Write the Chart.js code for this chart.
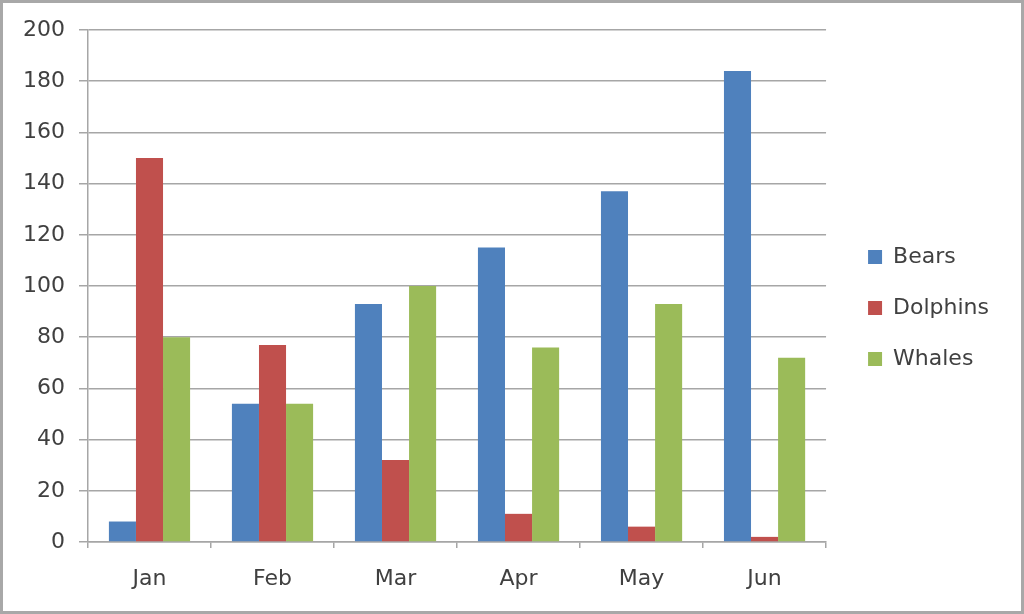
<!DOCTYPE html>
<html>
<head>
<meta charset="utf-8">
<script src="https://cdn.jsdelivr.net/npm/chart.js@4/dist/chart.umd.min.js"></script>
<style>
  html, body { margin: 0; padding: 0; background: #fff; }
  #wrap { width: 1024px; height: 614px; position: relative; }
</style>
</head>
<body>
<div id="wrap"><canvas id="chart" width="1024" height="614"></canvas></div>
<script>
// values
const months = ['Jan', 'Feb', 'Mar', 'Apr', 'May', 'Jun'];
const bears = [8, 54, 93, 115, 137, 184];
const dolphins = [150, 77, 32, 11, 6, 2];
const whales = [80, 54, 100, 76, 93, 72];

const gridColor = '#a6a6a6';
const textColor = '#404040';
const font = { family: 'DejaVu Sans', size: 22 };

// grey frame round the whole picture
const framePlugin = {
  id: 'frame',
  afterDraw(chart) {
    const ctx = chart.ctx;
    ctx.save();
    ctx.strokeStyle = '#a8a8a8';
    ctx.lineWidth = 3;
    ctx.strokeRect(1.5, 1.5, chart.width - 3, chart.height - 3);
    ctx.restore();
  }
};

const ctx = document.getElementById('chart').getContext('2d');
new Chart(ctx, {
  type: 'bar',
  data: {
    labels: months,
    datasets: [
      { label: 'Bears', data: bears, backgroundColor: '#4f81bd' },
      { label: 'Dolphins', data: dolphins, backgroundColor: '#c0504d' },
      { label: 'Whales', data: whales, backgroundColor: '#9bbb59' }
    ]
  },
  options: {
    responsive: false,
    animation: false,
    layout: { padding: { left: 9, top: 30, bottom: 4, right: 25 } },
    datasets: {
      bar: { categoryPercentage: 0.66, barPercentage: 1.0 }
    },
    plugins: {
      tooltip: { enabled: false },
      legend: {
        position: 'right',
        align: 'start',
        // empty title just pushes the items down to where they sit in the original
        title: { display: true, text: '', font: { size: 10, lineHeight: 1 }, padding: { top: 177, bottom: 0 } },
        labels: {
          boxWidth: 14,
          boxHeight: 14,
          padding: 29,
          color: textColor,
          font: font
        }
      }
    },
    scales: {
      x: {
        grid: { drawOnChartArea: false, color: gridColor, lineWidth: 1.5, tickLength: 6 },
        border: { color: gridColor, width: 1.5 },
        ticks: { color: textColor, font: { family: 'DejaVu Sans', size: 22, lineHeight: 1 }, padding: 20 }
      },
      y: {
        min: 0,
        max: 200,
        ticks: { stepSize: 20, color: textColor, font: font, padding: 14 },
        grid: { color: gridColor, lineWidth: 1.5, tickLength: 9 },
        border: { color: gridColor, width: 1.5 }
      },
      // empty axis only to keep a gap between the plot and the legend
      gap: {
        position: 'right',
        display: true,
        grid: { display: false },
        border: { display: false },
        ticks: { display: false },
        afterFit(scale) { scale.width = 13; }
      }
    }
  },
  plugins: [framePlugin]
});
</script>
</body>
</html>
